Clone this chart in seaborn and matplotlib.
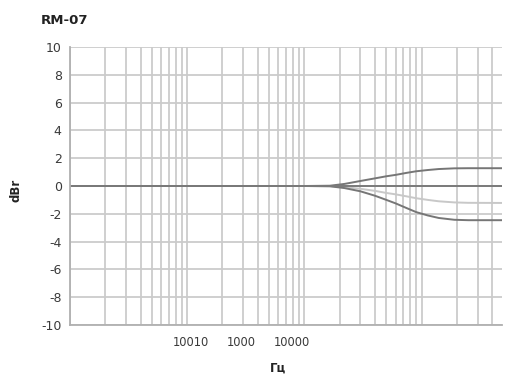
import matplotlib
matplotlib.use("Agg")
import matplotlib.pyplot as plt
from matplotlib.ticker import LogLocator, NullFormatter, FixedLocator, FixedFormatter
import seaborn as sns
import pandas as pd

title = "RM-07"
x_label = "Гц"
y_label = "dBr"

freq = [10, 100, 1000, 1650, 2200, 3000, 4000, 5000, 6000, 7500, 9000, 11300, 14000, 19000, 25000, 50000]
flat = [0.0] * len(freq)
boost = [0.0, 0.0, 0.0, 0.02, 0.15, 0.36, 0.55, 0.7, 0.8, 0.95, 1.06, 1.15, 1.22, 1.27, 1.28, 1.28]
cut_light = [0.0, 0.0, 0.0, -0.01, -0.08, -0.2, -0.35, -0.5, -0.6, -0.75, -0.88, -1.0, -1.1, -1.18, -1.21, -1.22]
cut_dark = [0.0, 0.0, 0.0, -0.02, -0.15, -0.38, -0.7, -1.0, -1.25, -1.6, -1.88, -2.12, -2.3, -2.43, -2.46, -2.46]

series_names = ["flat", "boost", "cut_light", "cut_dark"]
series_values = [flat, boost, cut_light, cut_dark]
series_colors = {"flat": "#7a7a7a", "boost": "#767676", "cut_light": "#c8c8c8", "cut_dark": "#767676"}

tick_pos = [108, 292, 782]
tick_labels = ["10010", "1000", "10000"]
y_ticks = list(range(-10, 11, 2))

rows = []
for name, vals in zip(series_names, series_values):
    for f, v in zip(freq, vals):
        rows.append({"freq": f, "dB": v, "series": name})
df = pd.DataFrame(rows)

sns.set_theme(style="white")
plt.rcParams["font.family"] = ["DejaVu Sans"]

fig = plt.figure(figsize=(5.09, 3.76), dpi=100)
ax = fig.add_axes([70 / 509, 1 - 325 / 376, 432 / 509, 278 / 376])

ax.set_xscale("log")
ax.set_xlim(10, 48500)
ax.set_ylim(-10, 10)

ax.xaxis.set_major_locator(LogLocator(base=10, numticks=20))
ax.xaxis.set_minor_locator(LogLocator(base=10, subs=range(2, 10), numticks=50))
ax.grid(True, which="both", axis="x", color="#cbcbcb", linewidth=1.3)
ax.set_yticks(y_ticks)
ax.grid(True, which="major", axis="y", color="#cbcbcb", linewidth=1.3)
ax.set_axisbelow(True)

sns.lineplot(data=df, x="freq", y="dB", hue="series", hue_order=["cut_light", "boost", "cut_dark", "flat"],
             palette=series_colors, linewidth=1.4, legend=False, ax=ax, estimator=None)

ax.xaxis.set_major_locator(LogLocator(base=10, numticks=20))
ax.xaxis.set_major_formatter(NullFormatter())
ax.xaxis.set_minor_formatter(NullFormatter())
ax.tick_params(axis="x", which="both", length=0)
sec = ax.secondary_xaxis("bottom")
sec.xaxis.set_major_locator(FixedLocator(tick_pos))
sec.xaxis.set_major_formatter(FixedFormatter(tick_labels))
sec.xaxis.set_minor_locator(FixedLocator([]))
sec.tick_params(axis="x", length=0, labelsize=8.3, colors="#3a3a3a", pad=8)
sec.spines["bottom"].set_visible(False)

ax.set_yticklabels([str(v) for v in y_ticks])
ax.tick_params(axis="y", length=3, color="#b0b0b0", labelsize=9, labelcolor="#3a3a3a", pad=3)

for s in ["top", "right"]:
    ax.spines[s].set_visible(False)
for s in ["left", "bottom"]:
    ax.spines[s].set_color("#b0b0b0")
    ax.spines[s].set_linewidth(1.3)

ax.set_xlabel("")
ax.set_ylabel("")
fig.text(278 / 509, 1 - 368 / 376, x_label, ha="center", va="center", fontsize=8.5, fontweight="bold", color="#222222")
fig.text(16 / 509, 1 - 190 / 376, y_label, ha="center", va="center", rotation=90, fontsize=8.5, fontweight="bold", color="#222222")
fig.text(41 / 509, 1 - 20 / 376, title, ha="left", va="center", fontsize=9.5, fontweight="bold", color="#222222")

fig.savefig("out.png", dpi=100)
